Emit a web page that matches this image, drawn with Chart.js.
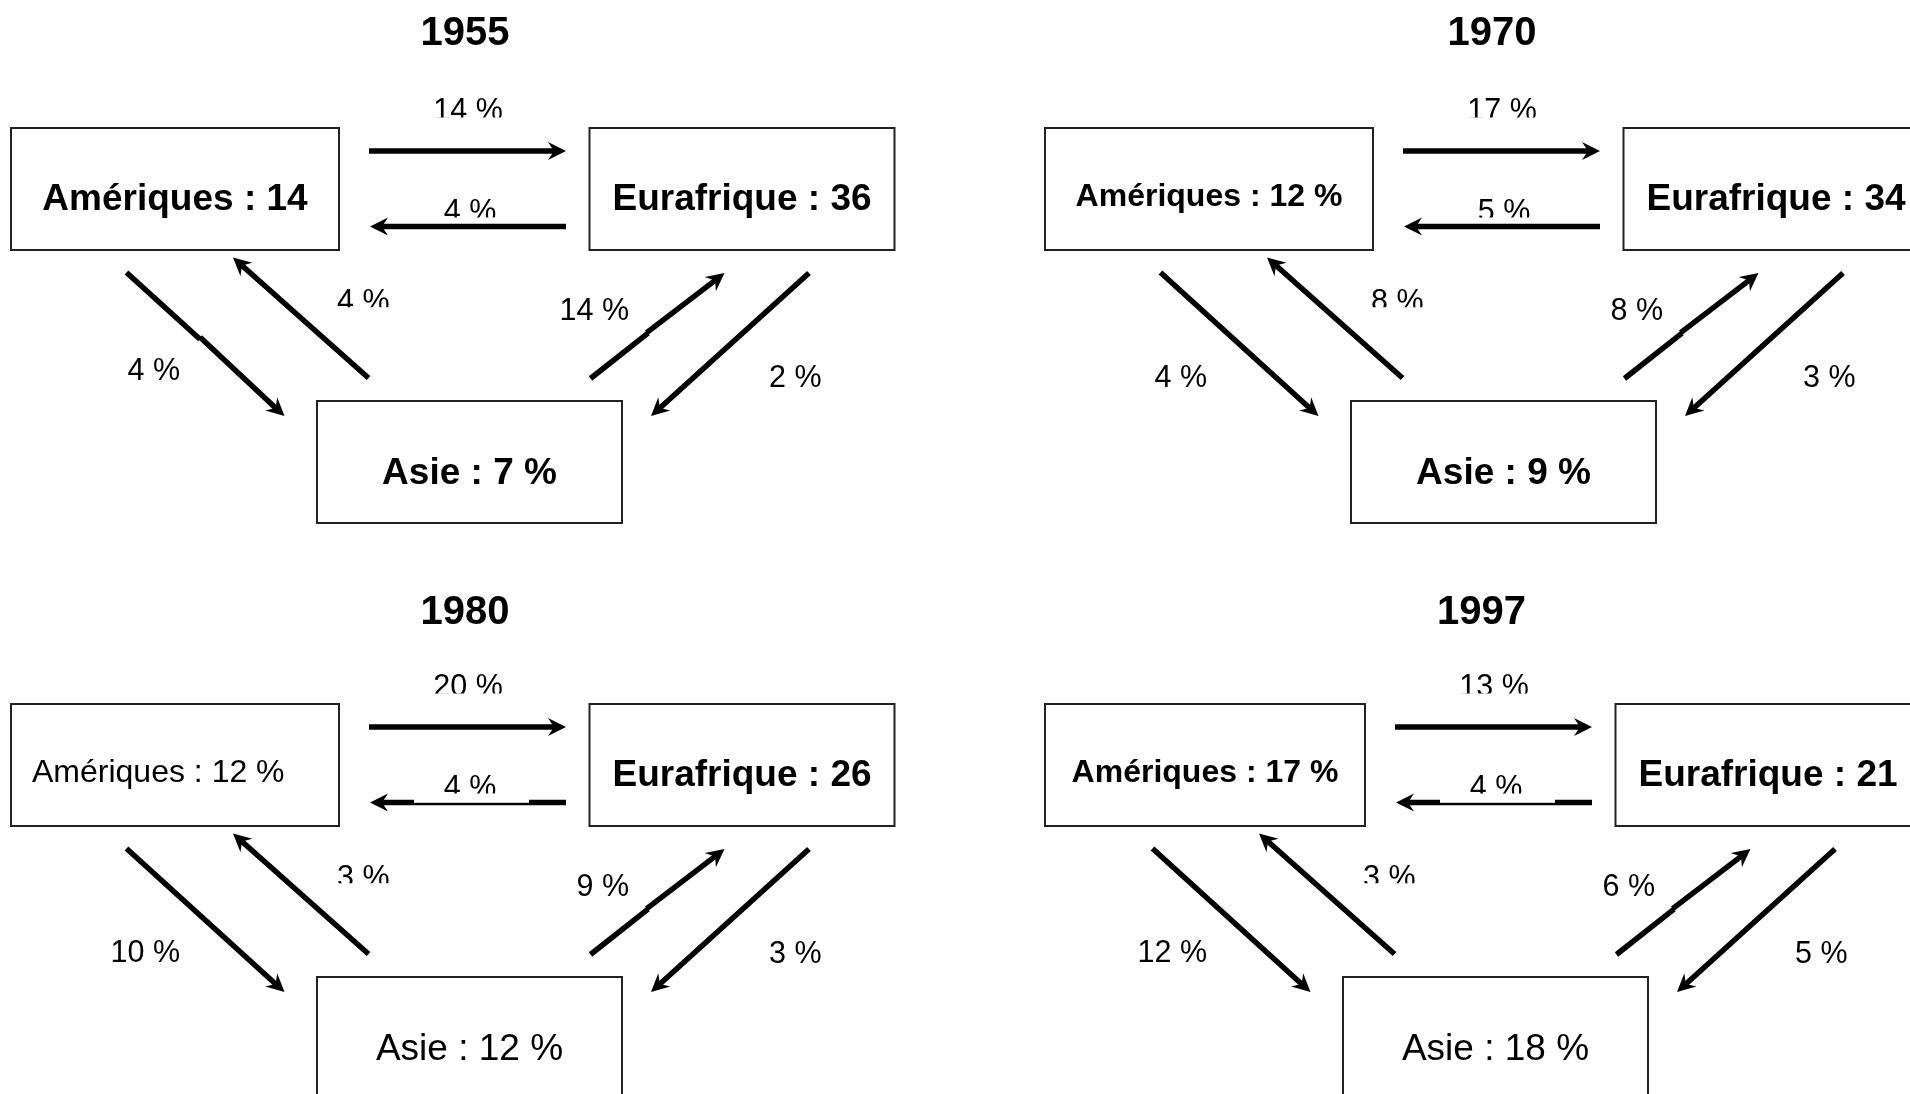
<!DOCTYPE html>
<html lang="fr">
<head>
<meta charset="utf-8">
<title>Échanges entre Amériques, Eurafrique et Asie</title>
<script src="https://cdn.jsdelivr.net/npm/chart.js@4.4.1/dist/chart.umd.min.js"></script>
<style>
    html, body { margin: 0; padding: 0; background: #ffffff; }
    #flows { display: block; }
</style>
</head>
<body>
<canvas id="flows" width="1910" height="1094"></canvas>
<script>
// One diagram per year
const years = ['1955', '1970', '1980', '1997'];
const regions = ['Amériques', 'Eurafrique', 'Asie'];

// Weight of each zone
const ameriques = [14, 12, 12, 17];
const eurafrique = [36, 34, 26, 21];
const asie = [7, 9, 12, 18];
// is the zone value written with " %" ?
const amPct = [false, true, true, true];
const euPct = [false, false, false, false];
const asPct = [true, true, true, true];

// Flows between zones (%)
const amToEu = [14, 17, 20, 13];
const euToAm = [4, 5, 4, 4];
const amToAs = [4, 4, 10, 12];
const asToAm = [4, 8, 3, 3];
const asToEu = [14, 8, 9, 6];
const euToAs = [2, 3, 3, 5];

const W = 1910, H = 1094;
const FONT = '"Liberation Sans", Arial, Helvetica, sans-serif';

/**
 * Placement of each year's diagram (px, relative offsets and per-panel tweaks).
 */
const panels = [
    { ox: 0,    oy: 0,   title: [465, 45],   amLeft: 11, amFont: 'bold 37px', amAlign: 'center', asFont: 'bold 37px', lowLeft: [180, 380], maskBack: false, kinkAmAs: true },
    { ox: 1034, oy: 0,   title: [458, 45],   amLeft: 11, amFont: 'bold 32px', amAlign: 'center', asFont: 'bold 37px', lowLeft: [173, 387], maskBack: false, kinkAmAs: false },
    { ox: 0,    oy: 576, title: [465, 48],   amLeft: 11, amFont: '32px',      amAlign: 'left',   asFont: '37px',      lowLeft: [180, 386], maskBack: true,  kinkAmAs: false },
    { ox: 1026, oy: 576, title: [455.5, 48], amLeft: 19, amFont: 'bold 32px', amAlign: 'center', asFont: '37px',      lowLeft: [181, 386], maskBack: true,  kinkAmAs: false }
];

// boxes, relative to the panel
const boxEu = { x1: 589.5, x2: 894.5, y1: 128, y2: 250 };
const boxAs = { x1: 317, x2: 622, y1: 401, y2: 523 };
const boxAmRight = 339;

// arrows [x start, y start, x tip, y tip], relative to the panel
const arrowGeom = {
    amToEu: [369, 151, 566, 151],
    euToAm: [566, 226.5, 370, 226.5],
    amToAs: [126.5, 272.5, 284.5, 416],
    asToAm: [368.5, 378, 233, 257.5],
    asToEu: [590.5, 378.5, 724.5, 273],
    euToAs: [809, 273, 651, 416]
};

// small step in some shafts: break point and shift of the second part
const kinks = {
    asToEu: { at: [648, 333.2], shift: [0.3, -1.8] },
    amToAs: { at: [200, 339.2], shift: [1.6, -0.6] }
};
const KINK_OVERLAP = 2;

// flow labels (baseline position), clip = text cut below this line
const labelGeom = {
    amToEu: { x: 468, y: 120,   align: 'center', clip: 117.5 },
    euToAm: { x: 470, y: 220.5, align: 'center', clip: 217.5 },
    amToAs: { x: null, y: null, align: 'right' },
    asToAm: { x: 337, y: 311,   align: 'left',   clip: 307.3 },
    asToEu: { x: 629, y: 320,   align: 'right' },
    euToAs: { x: 769, y: 387,   align: 'left' }
};

const flows = { amToEu, euToAm, amToAs, asToAm, asToEu, euToAs };

const HEAD_LEN = 18, HEAD_HALF = 9, NOTCH = 12;

function boxesFor(p) {
    return [
        { x1: p.amLeft, x2: boxAmRight, y1: 128, y2: 250 },
        boxEu,
        boxAs
    ];
}

function unit(g) {
    const len = Math.hypot(g[2] - g[0], g[3] - g[1]);
    return [(g[2] - g[0]) / len, (g[3] - g[1]) / len, len];
}

// the shaft stops at the notch of the head
function shaftEnd(g) {
    const [ux, uy, len] = unit(g);
    return [g[0] + ux * (len - NOTCH), g[1] + uy * (len - NOTCH)];
}

function shaftStyle(pts) {
    return {
        data: pts,
        borderColor: '#000000',
        borderWidth: 5.5,
        borderCapStyle: 'butt'
    };
}

// Build line datasets: box outlines and arrow shafts
const datasets = [];
panels.forEach((p) => {
    boxesFor(p).forEach((b) => {
        datasets.push({
            data: [
                { x: p.ox + b.x1, y: p.oy + b.y1 },
                { x: p.ox + b.x2, y: p.oy + b.y1 },
                { x: p.ox + b.x2, y: p.oy + b.y2 },
                { x: p.ox + b.x1, y: p.oy + b.y2 },
                { x: p.ox + b.x1, y: p.oy + b.y1 }
            ],
            borderColor: '#222222',
            borderWidth: 2,
            borderCapStyle: 'square',
            borderJoinStyle: 'miter'
        });
    });
    Object.keys(arrowGeom).forEach((k) => {
        const g = arrowGeom[k];
        const [ex, ey] = shaftEnd(g);
        const kink = kinks[k];
        const useKink = kink && (k !== 'amToAs' || p.kinkAmAs);
        if (useKink) {
            const [ux, uy] = unit(g);
            datasets.push(shaftStyle([
                { x: p.ox + g[0], y: p.oy + g[1] },
                { x: p.ox + kink.at[0], y: p.oy + kink.at[1] }
            ]));
            datasets.push(shaftStyle([
                { x: p.ox + kink.at[0] + kink.shift[0] - ux * KINK_OVERLAP, y: p.oy + kink.at[1] + kink.shift[1] - uy * KINK_OVERLAP },
                { x: p.ox + ex, y: p.oy + ey }
            ]));
        } else {
            datasets.push(shaftStyle([
                { x: p.ox + g[0], y: p.oy + g[1] },
                { x: p.ox + ex, y: p.oy + ey }
            ]));
        }
    });
});

/**
 * Draws arrow heads, masks and all texts on top of the datasets.
 */
const diagramPlugin = {
    id: 'diagram',
    afterDatasetsDraw(chart) {
        const ctx = chart.ctx;
        const sx = chart.scales.x, sy = chart.scales.y;
        const px = (v) => sx.getPixelForValue(v);
        const py = (v) => sy.getPixelForValue(v);

        panels.forEach((p, i) => {
            // arrow heads
            Object.keys(arrowGeom).forEach((k) => {
                const g = arrowGeom[k];
                const x0 = px(p.ox + g[0]), y0 = py(p.oy + g[1]);
                const tx = px(p.ox + g[2]), ty = py(p.oy + g[3]);
                const len = Math.hypot(tx - x0, ty - y0);
                const ux = (tx - x0) / len, uy = (ty - y0) / len;
                const nx = -uy, ny = ux;
                ctx.save();
                ctx.fillStyle = '#000000';
                ctx.beginPath();
                ctx.moveTo(tx, ty);
                ctx.lineTo(tx - ux * HEAD_LEN + nx * HEAD_HALF, ty - uy * HEAD_LEN + ny * HEAD_HALF);
                ctx.lineTo(tx - ux * NOTCH, ty - uy * NOTCH);
                ctx.lineTo(tx - ux * HEAD_LEN - nx * HEAD_HALF, ty - uy * HEAD_LEN - ny * HEAD_HALF);
                ctx.closePath();
                ctx.fill();
                ctx.restore();
            });

            // white text box over the return arrow (1980, 1997)
            if (p.maskBack) {
                ctx.save();
                ctx.fillStyle = '#ffffff';
                const x1 = px(p.ox + 414), x2 = px(p.ox + 529);
                const y1 = py(p.oy + 212), y2 = py(p.oy + 226.8);
                ctx.fillRect(x1, y1, x2 - x1, y2 - y1);
                ctx.restore();
            }

            ctx.save();
            ctx.fillStyle = '#000000';
            ctx.textBaseline = 'alphabetic';

            // title
            ctx.font = 'bold 40px ' + FONT;
            ctx.textAlign = 'center';
            ctx.fillText(years[i], px(p.ox + p.title[0]), py(p.oy + p.title[1]));

            // zone boxes
            const amText = `${regions[0]} : ${ameriques[i]}${amPct[i] ? ' %' : ''}`;
            const euText = `${regions[1]} : ${eurafrique[i]}${euPct[i] ? ' %' : ''}`;
            const asText = `${regions[2]} : ${asie[i]}${asPct[i] ? ' %' : ''}`;

            ctx.font = p.amFont + ' ' + FONT;
            const amSmall = p.amFont.indexOf('32') >= 0;
            const amBase = py(p.oy + 128 + (amSmall ? 78 : 82));
            if (p.amAlign === 'left') {
                ctx.textAlign = 'left';
                ctx.fillText(amText, px(p.ox + p.amLeft + 21), amBase);
            } else {
                ctx.textAlign = 'center';
                ctx.fillText(amText, px(p.ox + (p.amLeft + boxAmRight) / 2), amBase);
            }

            ctx.textAlign = 'center';
            ctx.font = 'bold 37px ' + FONT;
            ctx.fillText(euText, px(p.ox + (boxEu.x1 + boxEu.x2) / 2), py(p.oy + boxEu.y1 + 82));

            ctx.font = p.asFont + ' ' + FONT;
            ctx.fillText(asText, px(p.ox + (boxAs.x1 + boxAs.x2) / 2), py(p.oy + boxAs.y1 + 83));

            // flow labels
            ctx.font = '30.5px ' + FONT;
            Object.keys(labelGeom).forEach((k) => {
                const l = labelGeom[k];
                const lx = l.x === null ? p.lowLeft[0] : l.x;
                const ly = l.y === null ? p.lowLeft[1] : l.y;
                const x = px(p.ox + lx), y = py(p.oy + ly);
                ctx.save();
                if (l.clip) {
                    const cy = py(p.oy + l.clip);
                    ctx.beginPath();
                    ctx.rect(x - 120, cy - 60, 240, 60);
                    ctx.clip();
                }
                ctx.textAlign = l.align;
                ctx.fillText(`${flows[k][i]} %`, x, y);
                ctx.restore();
            });
            ctx.restore();
        });
    }
};

const chart = new Chart(document.getElementById('flows').getContext('2d'), {
    type: 'scatter',
    data: { datasets: datasets },
    options: {
        responsive: false,
        maintainAspectRatio: false,
        devicePixelRatio: 1,
        animation: false,
        showLine: true,
        layout: { padding: 0 },
        elements: {
            point: { radius: 0, hoverRadius: 0 },
            line: { tension: 0, fill: false }
        },
        scales: {
            x: { type: 'linear', min: 0, max: W, display: false },
            y: { type: 'linear', min: 0, max: H, reverse: true, display: false }
        },
        plugins: {
            legend: { display: false },
            tooltip: { enabled: false }
        },
        events: []
    },
    plugins: [diagramPlugin]
});
</script>
</body>
</html>
